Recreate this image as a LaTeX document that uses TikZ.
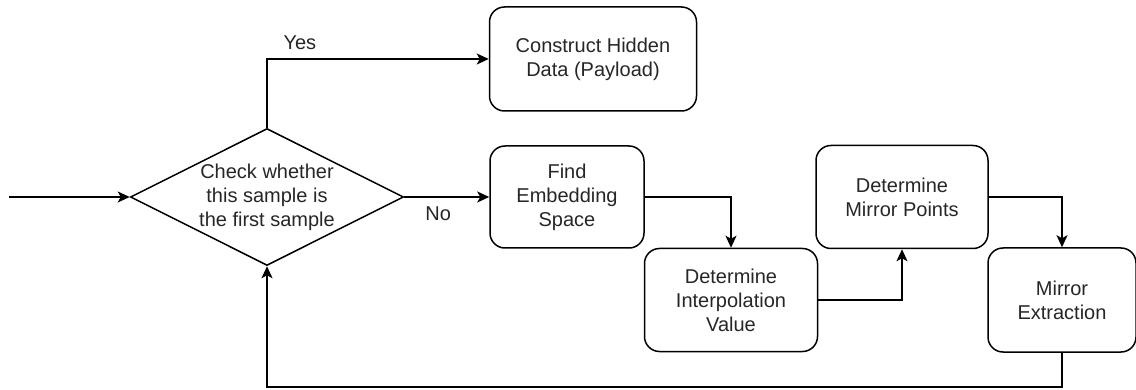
\documentclass[tikz,border=0pt]{standalone}
\usepackage{fontspec}
\setmainfont{Liberation Sans}
\usetikzlibrary{arrows.meta,shapes.geometric}
\begin{document}
\begin{tikzpicture}[x=1pt,y=-1pt,
  every node/.style={font=\fontsize{20}{24}\selectfont, text=black!85},
  proc/.style={draw, line width=1.5pt, rounded corners=15pt, align=center, inner sep=0pt},
  dec/.style={draw, diamond, line width=1.5pt, inner sep=0pt, minimum width=273pt, minimum height=137pt},
  txt/.style={align=center, inner sep=0pt},
  arr/.style={draw, line width=1.5pt, -{Stealth[length=12pt,width=11pt,inset=3pt]}},
  lbl/.style={inner sep=0pt}]
  \useasboundingbox (0,0) rectangle (1136,390);

  % decision and process steps
  \node[dec, label={[txt]center:{Check whether\\this sample is\\the first sample}}] (check) at (267,197) {};
  \node[proc, minimum width=207pt, minimum height=104pt] (hidden) at (593,59) {Construct Hidden\\Data (Payload)};
  \node[proc, minimum width=154pt, minimum height=102pt] (space) at (567,197) {Find\\Embedding\\Space};
  \node[proc, minimum width=173pt, minimum height=103pt] (interp) at (731,300) {Determine\\Interpolation\\Value};
  \node[proc, minimum width=172pt, minimum height=103pt] (mirror) at (902,197) {Determine\\Mirror Points};
  \node[proc, minimum width=148pt, minimum height=104pt] (extract) at (1062,300) {Mirror\\Extraction};

  \coordinate (start) at (9,197);

  % connectors
  \draw[arr] (start) -- (check.west);
  \draw[arr] (check.north) |- node[lbl, pos=0.574, above=9pt] {Yes} (hidden.west);
  \draw[arr] (check.east) -- node[lbl, pos=0.4, below=9pt] {No} (space.west);
  \draw[arr] (space.east) -| (interp.north);
  \draw[arr] (interp.east) -| (mirror.south);
  \draw[arr] (mirror.east) -| (extract.north);
  \draw[arr] (extract.south) -- ++(0,34) -| (check.south);
\end{tikzpicture}
\end{document}
